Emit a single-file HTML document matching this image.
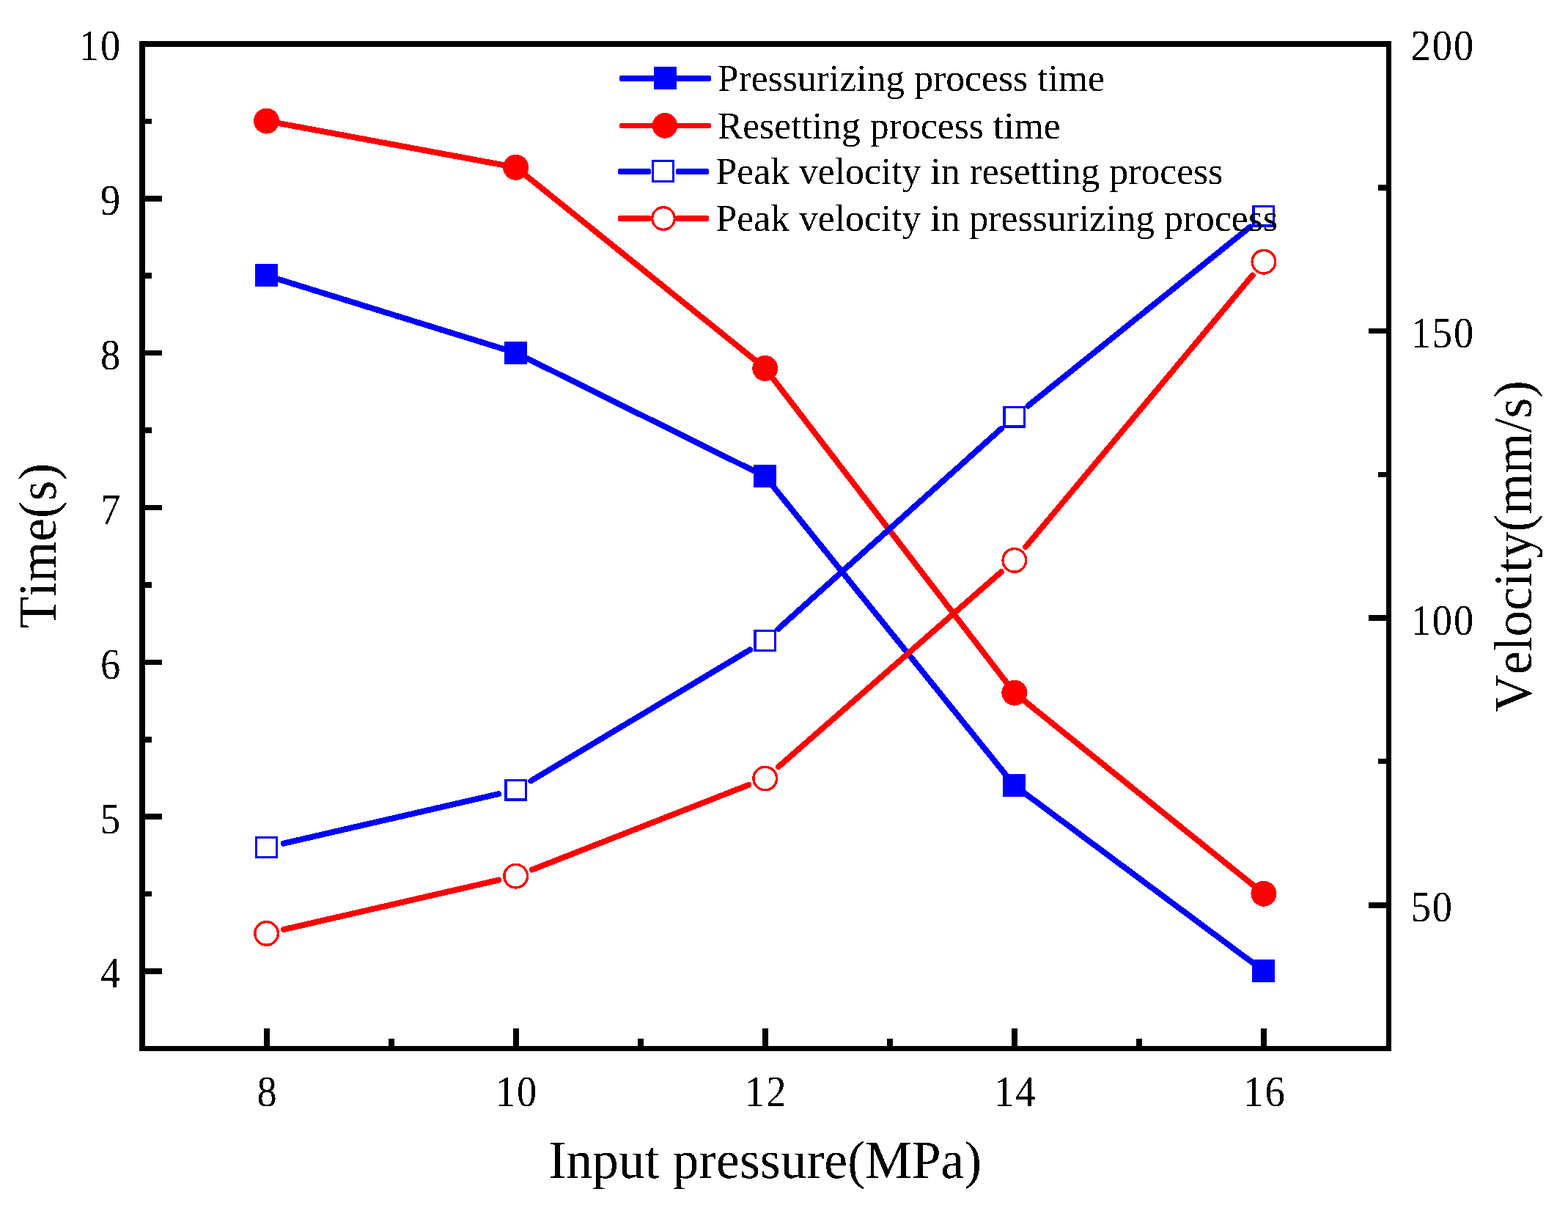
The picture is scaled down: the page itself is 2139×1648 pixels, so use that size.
<!DOCTYPE html>
<html lang="en"><head><meta charset="utf-8"><title>Time and velocity versus input pressure</title>
<style>html,body{margin:0;padding:0;background:#fff}body{width:2139px;height:1648px;overflow:hidden}svg{display:block}text{font-family:"Liberation Serif","Times New Roman",serif;fill:#000;font-kerning:none;font-variant-ligatures:none;white-space:pre;text-rendering:geometricPrecision}</style>
</head><body>
<svg width="2139" height="1648" viewBox="0 0 2139 1648" role="img" aria-label="Time and velocity versus input pressure">
<defs><filter id="bw" filterUnits="userSpaceOnUse" x="0" y="0" width="2139" height="1648" color-interpolation-filters="sRGB"><feComponentTransfer><feFuncA type="discrete" tableValues="0 1"/></feComponentTransfer></filter></defs>
<rect x="0" y="0" width="2139" height="1648" fill="#ffffff"/>
<g fill="#000" shape-rendering="crispEdges">
<rect x="190" y="56" width="8" height="1378"/>
<rect x="1891" y="56" width="7" height="1378"/>
<rect x="190" y="56" width="1708" height="8"/>
<rect x="190" y="1427" width="1708" height="7"/>
<rect x="198" y="1321" width="23" height="8"/>
<rect x="198" y="1216" width="9" height="7"/>
<rect x="198" y="1110" width="23" height="8"/>
<rect x="198" y="1005" width="9" height="8"/>
<rect x="198" y="900" width="23" height="7"/>
<rect x="198" y="794" width="9" height="8"/>
<rect x="198" y="689" width="23" height="7"/>
<rect x="198" y="583" width="9" height="8"/>
<rect x="198" y="478" width="23" height="7"/>
<rect x="198" y="372" width="9" height="8"/>
<rect x="198" y="267" width="23" height="8"/>
<rect x="198" y="162" width="9" height="7"/>
<rect x="1867" y="1231" width="24" height="8"/>
<rect x="1880" y="1035" width="11" height="7"/>
<rect x="1867" y="839" width="24" height="8"/>
<rect x="1880" y="644" width="11" height="7"/>
<rect x="1867" y="448" width="24" height="7"/>
<rect x="1880" y="252" width="11" height="8"/>
<rect x="360" y="1403" width="8" height="24"/>
<rect x="530" y="1417" width="8" height="10"/>
<rect x="700" y="1403" width="8" height="24"/>
<rect x="870" y="1417" width="8" height="10"/>
<rect x="1040" y="1403" width="8" height="24"/>
<rect x="1210" y="1417" width="8" height="10"/>
<rect x="1380" y="1403" width="8" height="24"/>
<rect x="1550" y="1417" width="8" height="10"/>
<rect x="1720" y="1403" width="8" height="24"/>
</g>
<g filter="url(#bw)">
<g font-size="59.5">
<text transform="translate(136.89,1347.48) scale(0.915,1)" x="0.00" y="0">4</text>
<text transform="translate(136.89,1136.63) scale(0.915,1)" x="0.00" y="0">5</text>
<text transform="translate(136.89,925.78) scale(0.915,1)" x="0.00" y="0">6</text>
<text transform="translate(136.89,714.94) scale(0.915,1)" x="0.00" y="0">7</text>
<text transform="translate(136.89,504.09) scale(0.915,1)" x="0.00" y="0">8</text>
<text transform="translate(136.89,293.25) scale(0.915,1)" x="0.00" y="0">9</text>
<text transform="translate(107.79,82.40) scale(0.915,1)" x="0.00 31.80" y="0">10</text>
<text transform="translate(1924.69,1257.11) scale(0.915,1)" x="0.00 31.80" y="0">50</text>
<text transform="translate(1924.69,865.54) scale(0.915,1)" x="0.00 31.80 63.61" y="0">100</text>
<text transform="translate(1924.69,473.97) scale(0.915,1)" x="0.00 31.80 63.61" y="0">150</text>
<text transform="translate(1924.69,82.40) scale(0.915,1)" x="0.00 31.80 63.61" y="0">200</text>
<text transform="translate(350.44,1509.20) scale(0.915,1)" x="0.00" y="0">8</text>
<text transform="translate(675.99,1509.20) scale(0.915,1)" x="0.00 31.80" y="0">10</text>
<text transform="translate(1016.09,1509.20) scale(0.915,1)" x="0.00 31.80" y="0">12</text>
<text transform="translate(1356.19,1509.20) scale(0.915,1)" x="0.00 31.80" y="0">14</text>
<text transform="translate(1696.29,1509.20) scale(0.915,1)" x="0.00 31.80" y="0">16</text>
</g>
<text transform="translate(748.34,1607) scale(0.9949,1.0178)" font-size="72">Input pressure(MPa)</text>
<text transform="translate(76,857.37) rotate(-90) scale(0.9896,1.0199)" font-size="72">Time(s)</text>
<text transform="translate(2088.9,971.8) rotate(-90) scale(0.9935,1.02)" font-size="72">Velocity(mm/s)</text>
</g>
<g shape-rendering="crispEdges">
<polyline points="363.55,375.87 703.65,481.29 1043.75,649.97 1383.85,1071.66 1723.95,1324.68" fill="none" stroke="#0000ff" stroke-width="8" stroke-linejoin="round" stroke-linecap="round"/>
<rect x="348.05" y="360.37" width="31" height="31" fill="#0000ff"/>
<rect x="688.15" y="465.79" width="31" height="31" fill="#0000ff"/>
<rect x="1028.25" y="634.47" width="31" height="31" fill="#0000ff"/>
<rect x="1368.35" y="1056.16" width="31" height="31" fill="#0000ff"/>
<rect x="1708.45" y="1309.18" width="31" height="31" fill="#0000ff"/>
<polyline points="363.55,165.02 703.65,228.28 1043.75,502.38 1383.85,945.15 1723.95,1219.25" fill="none" stroke="#ff0000" stroke-width="8" stroke-linejoin="round" stroke-linecap="round"/>
<circle cx="363.55" cy="165.02" r="17.5" fill="#ff0000"/>
<circle cx="703.65" cy="228.28" r="17.5" fill="#ff0000"/>
<circle cx="1043.75" cy="502.38" r="17.5" fill="#ff0000"/>
<circle cx="1383.85" cy="945.15" r="17.5" fill="#ff0000"/>
<circle cx="1723.95" cy="1219.25" r="17.5" fill="#ff0000"/>
<line x1="386.94" y1="1150.61" x2="680.26" y2="1083.07" stroke="#0000ff" stroke-width="8" stroke-linecap="round"/>
<line x1="724.24" y1="1065.36" x2="1023.16" y2="886.40" stroke="#0000ff" stroke-width="8" stroke-linecap="round"/>
<line x1="1061.61" y1="858.03" x2="1365.99" y2="584.68" stroke="#0000ff" stroke-width="8" stroke-linecap="round"/>
<line x1="1402.54" y1="553.58" x2="1705.26" y2="309.60" stroke="#0000ff" stroke-width="8" stroke-linecap="round"/>
<rect x="349.75" y="1142.70" width="27.6" height="26.6" fill="none" stroke="#0000ff" stroke-width="3.4"/>
<rect x="689.85" y="1064.39" width="27.6" height="26.6" fill="none" stroke="#0000ff" stroke-width="3.4"/>
<rect x="1029.95" y="860.77" width="27.6" height="26.6" fill="none" stroke="#0000ff" stroke-width="3.4"/>
<rect x="1370.05" y="555.34" width="27.6" height="26.6" fill="none" stroke="#0000ff" stroke-width="3.4"/>
<rect x="1710.15" y="281.24" width="27.6" height="26.6" fill="none" stroke="#0000ff" stroke-width="3.4"/>
<line x1="386.94" y1="1268.09" x2="680.26" y2="1200.54" stroke="#ff0000" stroke-width="8" stroke-linecap="round"/>
<line x1="726.00" y1="1186.41" x2="1021.40" y2="1070.77" stroke="#ff0000" stroke-width="8" stroke-linecap="round"/>
<line x1="1061.81" y1="1046.22" x2="1365.79" y2="780.23" stroke="#ff0000" stroke-width="8" stroke-linecap="round"/>
<line x1="1399.23" y1="746.01" x2="1708.57" y2="375.62" stroke="#ff0000" stroke-width="8" stroke-linecap="round"/>
<circle cx="363.55" cy="1273.47" r="15.8" fill="none" stroke="#ff0000" stroke-width="3.4"/>
<circle cx="703.65" cy="1195.16" r="15.8" fill="none" stroke="#ff0000" stroke-width="3.4"/>
<circle cx="1043.75" cy="1062.02" r="15.8" fill="none" stroke="#ff0000" stroke-width="3.4"/>
<circle cx="1383.85" cy="764.43" r="15.8" fill="none" stroke="#ff0000" stroke-width="3.4"/>
<circle cx="1723.95" cy="357.19" r="15.8" fill="none" stroke="#ff0000" stroke-width="3.4"/>
<rect x="845" y="103" width="125" height="8" rx="2.5" fill="#0000ff"/>
<rect x="892" y="91" width="31" height="31" fill="#0000ff"/>
<rect x="845" y="168" width="125" height="7" rx="2.5" fill="#ff0000"/>
<circle cx="907" cy="171.4" r="17.3" fill="#ff0000"/>
<rect x="843" y="230" width="45" height="8" rx="2.5" fill="#0000ff"/>
<rect x="922" y="230" width="45" height="8" rx="2.5" fill="#0000ff"/>
<rect x="890.7" y="219.7" width="27.6" height="27.6" fill="none" stroke="#0000ff" stroke-width="3.4"/>
<rect x="843" y="294" width="45" height="8" rx="2.5" fill="#ff0000"/>
<rect x="922" y="294" width="45" height="8" rx="2.5" fill="#ff0000"/>
<circle cx="905" cy="298" r="15.3" fill="none" stroke="#ff0000" stroke-width="3.4"/>
</g>
<g filter="url(#bw)">
<text transform="translate(978.67,124) scale(1,1.007)" font-size="51.7">Pressurizing process time</text>
<text transform="translate(978.7,188.5) scale(1,1.007)" font-size="51.7">Resetting process time</text>
<text transform="translate(976.5,251.2) scale(1,1.007)" font-size="51.7">Peak velocity in resetting process</text>
<text transform="translate(976.5,315) scale(1,1.007)" font-size="51.7">Peak velocity in pressurizing process</text>
</g>
</svg>
</body></html>
